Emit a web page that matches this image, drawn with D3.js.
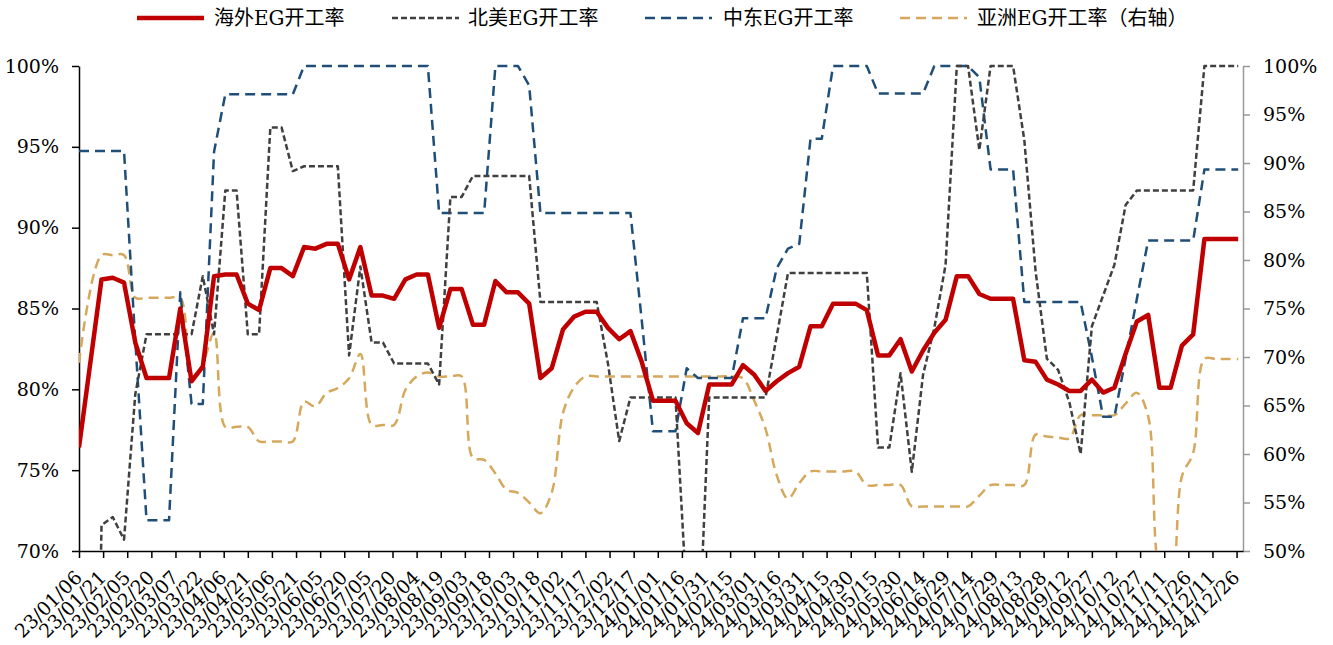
<!DOCTYPE html>
<html>
<head>
<meta charset="utf-8">
<script src="https://cdn.jsdelivr.net/npm/d3@7"></script>
<style>
  body { margin: 0; background: #fff; }
  svg text { font-family: "DejaVu Serif", "Noto Sans CJK SC", serif; fill: #000; }
</style>
</head>
<body>
<div class="main-container"></div>
<script>
// weekly dates, first one 23/01/06, 104 weeks
var startDate = new Date(2023, 0, 6);
var weekCount = 104;

var seriesNames = ["海外EG开工率", "北美EG开工率", "中东EG开工率", "亚洲EG开工率（右轴）"];

var overseas = [
  76.4, null, 86.8, 86.9, 86.6, 82.9, 80.7, 80.7, 80.7, 85.0,
  80.5, 81.4, 87.0, 87.1, 87.1, 85.3, 84.9, 87.5, 87.5, 87.0,
  88.8, 88.7, 89.0, 89.0, 86.8, 88.8, 85.8, 85.8, 85.6, 86.8,
  87.1, 87.1, 83.8, 86.2, 86.2, 84.0, 84.0, 86.7, 86.0, 86.0,
  85.3, 80.7, 81.3, 83.7, 84.5, 84.8, 84.8, 83.8, 83.1, 83.6,
  81.7, 79.3, 79.3, 79.3, 77.9, 77.3, 80.3, 80.3, 80.3, 81.5,
  80.9, 79.9, 80.5, 81.0, 81.4, 83.9, 83.9, 85.3, 85.3, 85.3,
  84.9, 82.1, 82.1, 83.1, 81.1, 82.4, 83.5, 84.3, 87.0, 87.0,
  85.9, 85.6, 85.6, 85.6, 81.8, 81.7, 80.6, 80.3, 79.9, 79.9,
  80.6, 79.8, 80.1, 82.2, 84.2, 84.6, 80.1, 80.1, 82.7, 83.4,
  89.3, 89.3, 89.3, 89.3
];

var northAmerica = [
  null, 30, 71.6, 72.1, 70.7, 79.7, 83.4, 83.4, 83.4, 83.4,
  83.4, 87.0, 83.4, 92.3, 92.3, 83.4, 83.4, 96.2, 96.2, 93.5,
  93.8, 93.8, 93.8, 93.8, 82.1, 87.6, 82.9, 82.9, 81.6, 81.6,
  81.6, 81.6, 80.3, 91.9, 91.9, 93.2, 93.2, 93.2, 93.2, 93.2,
  93.2, 85.4, 85.4, 85.4, 85.4, 85.4, 85.4, 81.6, 76.8, 79.5,
  79.5, 79.5, 79.5, 79.5, 67.0, 63.0, 79.5, 79.5, 79.5, 79.5,
  79.5, 79.5, 83.3, 87.2, 87.2, 87.2, 87.2, 87.2, 87.2, 87.2,
  87.2, 76.4, 76.4, 81.0, 74.9, 80.9, 83.8, 87.7, 100, 100,
  94.8, 100, 100, 100, 95.4, 87.3, 81.9, 81.2, 79.2, 76.0,
  83.9, 85.8, 87.7, 91.4, 92.3, 92.3, 92.3, 92.3, 92.3, 92.3,
  100, 100, 100, 100
];

var middleEast = [
  94.75, 94.75, 94.75, 94.75, 94.75, 83.0, 71.9, 71.9, 71.9, 86.0,
  79.1, 79.1, 94.7, 98.25, 98.25, 98.25, 98.25, 98.25, 98.25, 98.25,
  100, 100, 100, 100, 100, 100, 100, 100, 100, 100,
  100, 100, 90.9, 90.9, 90.9, 90.9, 90.9, 100, 100, 100,
  98.8, 90.9, 90.9, 90.9, 90.9, 90.9, 90.9, 90.9, 90.9, 90.9,
  84.3, 77.4, 77.4, 77.4, 81.3, 80.7, 80.7, 80.7, 80.7, 84.4,
  84.4, 84.4, 87.5, 88.7, 89.0, 95.5, 95.5, 100, 100, 100,
  100, 98.3, 98.3, 98.3, 98.3, 98.3, 100, 100, 100, 100,
  99.3, 93.6, 93.6, 93.6, 85.4, 85.4, 85.4, 85.4, 85.4, 85.4,
  82.0, 78.3, 78.3, 81.9, 85.6, 89.2, 89.2, 89.2, 89.2, 89.2,
  93.6, 93.6, 93.6, 93.6
];

var asia = [
  69.4, null, 80.5, 80.5, 80.5, 76.1, 76.1, 76.1, 76.1, 76.1,
  67.6, 69.3, 72.5, 62.8, 62.8, 62.8, 61.3, 61.3, 61.3, 61.3,
  65.4, 64.9, 66.3, 66.8, 67.8, 70.3, 63.0, 63.0, 63.0, 66.6,
  68.0, 68.4, 68.0, 68.0, 68.0, 59.6, 59.4, 58.0, 56.3, 56.0,
  55.0, 53.9, 56.0, 64.2, 66.9, 68.0, 68.0, 68.0, 68.0, 68.0,
  68.0, 68.0, 68.0, 68.0, 68.0, 68.0, 68.0, 68.0, 68.0, 67.8,
  65.5, 62.6, 57.8, 55.4, 57.0, 58.2, 58.2, 58.2, 58.2, 58.2,
  56.8, 56.8, 56.8, 56.8, 54.6, 54.6, 54.6, 54.6, 54.6, 54.6,
  55.7, 56.8, 56.8, 56.8, 56.8, 62.0, 61.8, 61.7, 61.6, 64.0,
  64.0, 64.0, 64.0, 65.2, 66.3, 63.9, 48.0, 46.0, 57.7, 60.1,
  69.8, 69.8, 69.8, 69.8
];

var leftTicks = [70, 75, 80, 85, 90, 95, 100];
var rightTicks = [50, 55, 60, 65, 70, 75, 80, 85, 90, 95, 100];

var weeks = d3.range(weekCount).map(function (i) { return d3.timeDay.offset(startDate, i * 7); });
var tickDates = d3.range(0, 721, 15).map(function (d) { return d3.timeDay.offset(startDate, d); });

var width = 1333, height = 645;
var plotLeft = 79, plotRight = 1243, plotTop = 66, plotBottom = 551;

var svg = d3.select(".main-container")
    .append("svg")
    .attr("width", width)
    .attr("height", height);

var x = d3.scaleTime()
    .domain([startDate, new Date(2024, 11, 30)])
    .range([plotLeft, plotRight]);
var yL = d3.scaleLinear().domain([70, 100]).range([plotBottom, plotTop]);
var yR = d3.scaleLinear().domain([50, 100]).range([plotBottom, plotTop]);

svg.append("clipPath").attr("id", "plot")
    .append("rect")
    .attr("x", plotLeft).attr("y", 0)
    .attr("width", plotRight - plotLeft).attr("height", plotBottom);

// axes
var axL = svg.append("g")
    .attr("transform", "translate(" + plotLeft + ",0)")
    .call(d3.axisLeft(yL).tickValues(leftTicks).tickSize(7).tickSizeOuter(0)
        .tickFormat(function (d) { return d + "%"; }));
axL.select(".domain").attr("stroke", "#000").attr("stroke-width", 1.5);
axL.selectAll(".tick line").attr("stroke", "#000").attr("stroke-width", 1.5);
axL.selectAll("text").attr("font-size", 19).attr("x", -20).attr("fill", "#000");

var axR = svg.append("g")
    .attr("transform", "translate(" + plotRight + ",0)")
    .call(d3.axisRight(yR).tickValues(rightTicks).tickSize(7).tickSizeOuter(0)
        .tickFormat(function (d) { return d + "%"; }));
axR.select(".domain").attr("stroke", "#999").attr("stroke-width", 1.5);
axR.selectAll(".tick line").attr("stroke", "#999").attr("stroke-width", 1.5);
axR.selectAll("text").attr("font-size", 19).attr("x", 20).attr("fill", "#000");

var axB = svg.append("g")
    .attr("transform", "translate(0," + plotBottom + ")")
    .call(d3.axisBottom(x).tickValues(tickDates).tickSize(7).tickSizeOuter(0)
        .tickFormat(d3.timeFormat("%y/%m/%d")));
axB.select(".domain").attr("stroke", "#000").attr("stroke-width", 1.5);
axB.selectAll(".tick line").attr("stroke", "#000").attr("stroke-width", 1.5);
axB.selectAll("text")
    .attr("font-size", 19)
    .attr("x", 0).attr("y", 0).attr("dy", "0.35em")
    .attr("text-anchor", "end")
    .attr("transform", "translate(-1,23) rotate(-45)");

// lines
function pts(vals) {
    return weeks.map(function (d, i) { return { date: d, v: vals[i] }; })
        .filter(function (p) { return p.v !== null; });
}
var lineL = d3.line().x(function (p) { return x(p.date); }).y(function (p) { return yL(p.v); });
var lineR = d3.line().x(function (p) { return x(p.date); }).y(function (p) { return yR(p.v); })
    .curve(d3.curveCatmullRom.alpha(0.5));

var g = svg.append("g").attr("clip-path", "url(#plot)");

var series = [
    { vals: asia, line: lineR, color: "#D5A85C", w: 2.5, dash: "10,6" },
    { vals: middleEast, line: lineL, color: "#1F4E79", w: 2.5, dash: "10,6" },
    { vals: northAmerica, line: lineL, color: "#404040", w: 2.5, dash: "6,3" },
    { vals: overseas, line: lineL, color: "#C00000", w: 4.5, dash: null }
];
series.forEach(function (s) {
    g.append("path")
        .attr("d", s.line(pts(s.vals)))
        .attr("fill", "none")
        .attr("stroke", s.color)
        .attr("stroke-width", s.w)
        .attr("stroke-linejoin", "round")
        .attr("stroke-dasharray", s.dash);
});

// legend
var legendItems = [
    { x: 137, tx: 214, color: "#C00000", w: 4.5, dash: null },
    { x: 392, tx: 468, color: "#404040", w: 2.5, dash: "6,3" },
    { x: 645, tx: 723, color: "#1F4E79", w: 2.5, dash: "10,6" },
    { x: 900, tx: 977, color: "#D5A85C", w: 2.5, dash: "10,6" }
];
legendItems.forEach(function (d, i) {
    svg.append("line")
        .attr("x1", d.x).attr("x2", d.x + 67)
        .attr("y1", 18).attr("y2", 18)
        .attr("stroke", d.color)
        .attr("stroke-width", d.w)
        .attr("stroke-dasharray", d.dash);
    svg.append("text")
        .attr("x", d.tx).attr("y", 18)
        .attr("dy", "0.35em")
        .attr("font-size", 20)
        .attr("fill", "#333")
        .text(seriesNames[i]);
});
</script>
</body>
</html>
